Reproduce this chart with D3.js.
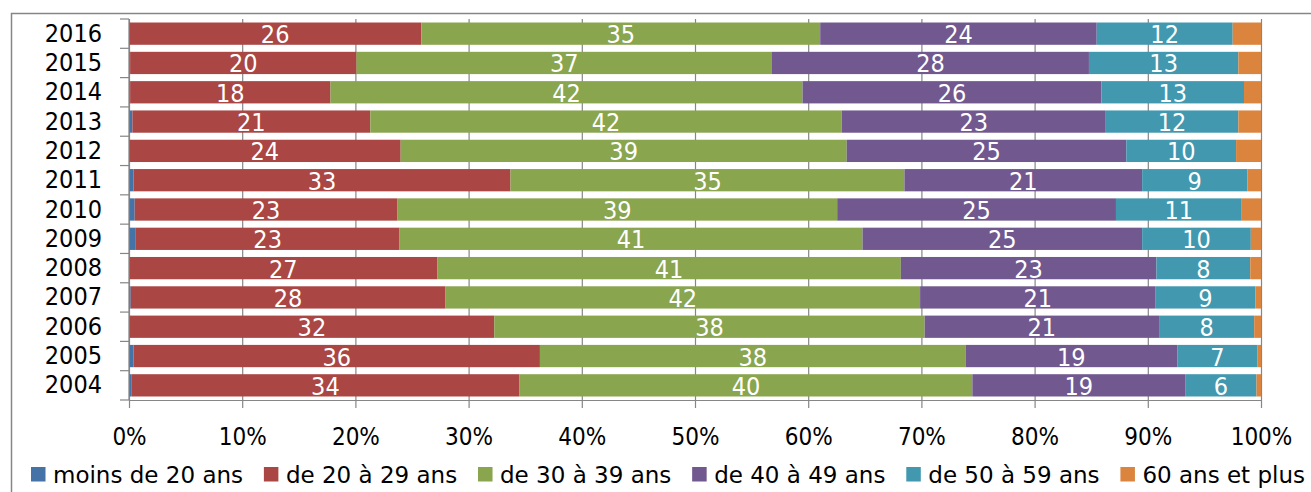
<!DOCTYPE html>
<html>
<head>
<meta charset="utf-8">
<script src="https://cdn.jsdelivr.net/npm/d3@7"></script>
<style>
  body { margin: 0; background: #fff; }
  svg { display: block; }
</style>
</head>
<body>
<svg id="chart"></svg>
<script>
const years = ['2016', '2015', '2014', '2013', '2012', '2011', '2010', '2009', '2008', '2007', '2006', '2005', '2004'];
const seriesNames = ['moins de 20 ans', 'de 20 à 29 ans', 'de 30 à 39 ans', 'de 40 à 49 ans', 'de 50 à 59 ans', '60 ans et plus'];
const under20 = [0, 0.1, 0.1, 0.3, 0, 0.4, 0.5, 0.6, 0.05, 0.15, 0.05, 0.4, 0.2];
const age20to29 = [25.8, 20.0, 17.7, 21.0, 24.0, 33.3, 23.2, 23.3, 27.2, 27.8, 32.2, 35.9, 34.3];
const age30to39 = [35.2, 36.7, 41.7, 41.6, 39.4, 34.8, 38.8, 40.9, 41.0, 41.9, 38.0, 37.6, 40.0];
const age40to49 = [24.4, 28.0, 26.4, 23.3, 24.7, 21.0, 24.6, 24.7, 22.6, 20.8, 20.7, 18.7, 18.8];
const age50to59 = [12.0, 13.2, 12.6, 11.7, 9.7, 9.3, 11.1, 9.6, 8.3, 8.8, 8.4, 7.1, 6.3];
const over60 = [2.5, 2.0, 1.5, 2.0, 2.2, 1.2, 1.7, 0.9, 0.95, 0.5, 0.6, 0.3, 0.4];
const tickValues = [0, 0.1, 0.2, 0.3, 0.4, 0.5, 0.6, 0.7, 0.8, 0.9, 1];
const labelledSeries = [1, 2, 3, 4];

const colors = ['#4572A7', '#AA4643', '#89A54E', '#71588F', '#4198AF', '#DB843D'];
const seriesValues = [under20, age20to29, age30to39, age40to49, age50to59, over60];

const state = {
  width: 1311,
  height: 492,
  margin: { top: 19, right: 50, bottom: 92, left: 129 },
};
state.graphW = 1261 - state.margin.left;
state.graphH = 400 - state.margin.top;

const condensed = '"DejaVu Sans Condensed", "DejaVu Sans", sans-serif';
const gridColor = '#868686';

const rows = years.map((y, i) => {
  const row = { year: y };
  seriesNames.forEach((s, j) => { row[s] = seriesValues[j][i]; });
  return row;
});

const stacked = d3.stack()
  .keys(seriesNames)
  .offset(d3.stackOffsetExpand)(rows);

const svg = d3.select('#chart')
  .attr('width', state.width)
  .attr('height', state.height)
  .style('font-family', condensed);

// outer frame
svg.append('rect')
  .attr('x', 11.5)
  .attr('y', 13.5)
  .attr('width', 1400)
  .attr('height', 600)
  .attr('fill', 'none')
  .attr('stroke', gridColor)
  .attr('stroke-width', 1.5);

const xScale = d3.scaleLinear().domain([0, 1]).range([0, state.graphW]);
const yScale = d3.scaleBand()
  .domain(years)
  .range([0, state.graphH])
  .paddingInner(0.24)
  .paddingOuter(0.12);

const g = svg.append('g')
  .attr('transform', `translate(${state.margin.left},${state.margin.top})`);

// vertical gridlines + ticks under the axis
const xAxis = g.append('g')
  .attr('class', 'x-axis')
  .attr('transform', `translate(0,${state.graphH})`)
  .call(d3.axisBottom(xScale)
    .tickValues(tickValues)
    .tickFormat(d3.format('.0%'))
    .tickSizeInner(-state.graphH)
    .tickSizeOuter(0)
    .tickPadding(0));
xAxis.select('.domain').attr('stroke', gridColor).attr('stroke-width', 1.2);
xAxis.selectAll('.tick line')
  .attr('stroke', gridColor)
  .attr('stroke-width', 1.2)
  .attr('y2', 8)
  .attr('y1', -state.graphH);
xAxis.selectAll('.tick text')
  .attr('y', 28)
  .attr('fill', '#000')
  .style('font-size', '24px')
  .style('font-family', condensed);

// bars
const layers = g.append('g')
  .selectAll('g')
  .data(stacked)
  .enter()
  .append('g')
  .attr('fill', (d, i) => colors[i]);

layers.selectAll('rect')
  .data(d => d)
  .enter()
  .append('rect')
  .attr('x', d => xScale(d[0]))
  .attr('y', d => yScale(d.data.year))
  .attr('width', d => Math.max(0, xScale(d[1]) - xScale(d[0])))
  .attr('height', yScale.bandwidth());

// value labels
stacked.forEach((layer, i) => {
  if (!labelledSeries.includes(i)) return;
  g.append('g')
    .selectAll('text')
    .data(layer)
    .enter()
    .append('text')
    .attr('x', d => (xScale(d[0]) + xScale(d[1])) / 2)
    .attr('y', d => yScale(d.data.year) + yScale.bandwidth() / 2)
    .attr('dy', '0.38em')
    .attr('text-anchor', 'middle')
    .attr('fill', '#fff')
    .style('font-size', '25px')
    .text(d => d3.format('.0f')(d.data[layer.key]));
});

// y axis
const yAxis = g.append('g')
  .attr('class', 'y-axis')
  .call(d3.axisLeft(yScale).tickSize(0).tickPadding(27));
yAxis.select('.domain')
  .attr('stroke', gridColor)
  .attr('stroke-width', 1.2)
  .attr('d', `M0,0V${state.graphH}`);
yAxis.selectAll('.tick text')
  .attr('fill', '#000')
  .style('font-size', '25px')
  .style('font-family', condensed);

// category separators on the y axis
const sepYs = d3.range(years.length + 1).map(i => i * yScale.step());
yAxis.append('g')
  .selectAll('line')
  .data(sepYs)
  .enter()
  .append('line')
  .attr('x1', -9)
  .attr('x2', 0)
  .attr('y1', d => d)
  .attr('y2', d => d)
  .attr('stroke', gridColor)
  .attr('stroke-width', 1.2);

// legend
const legend = svg.append('g')
  .attr('class', 'legend')
  .style('font-family', '"DejaVu Sans", sans-serif')
  .style('font-size', '23px');

const items = legend.selectAll('g')
  .data(seriesNames)
  .enter()
  .append('g');

items.append('rect')
  .attr('width', 14.5)
  .attr('height', 14.5)
  .attr('y', 467)
  .attr('fill', (d, i) => colors[i]);

items.append('text')
  .attr('x', 22)
  .attr('y', 482.5)
  .attr('fill', '#000')
  .text(d => d);

const widths = [];
items.selectAll('text').each(function () { widths.push(this.getComputedTextLength()); });
const totalW = d3.sum(widths) + 22 * widths.length;
const gap = (1305 - 31 - totalW) / (widths.length - 1);
let xPos = 31;
items.each(function (d, i) {
  d3.select(this).attr('transform', `translate(${xPos},0)`);
  xPos += 22 + widths[i] + gap;
});
</script>
</body>
</html>
